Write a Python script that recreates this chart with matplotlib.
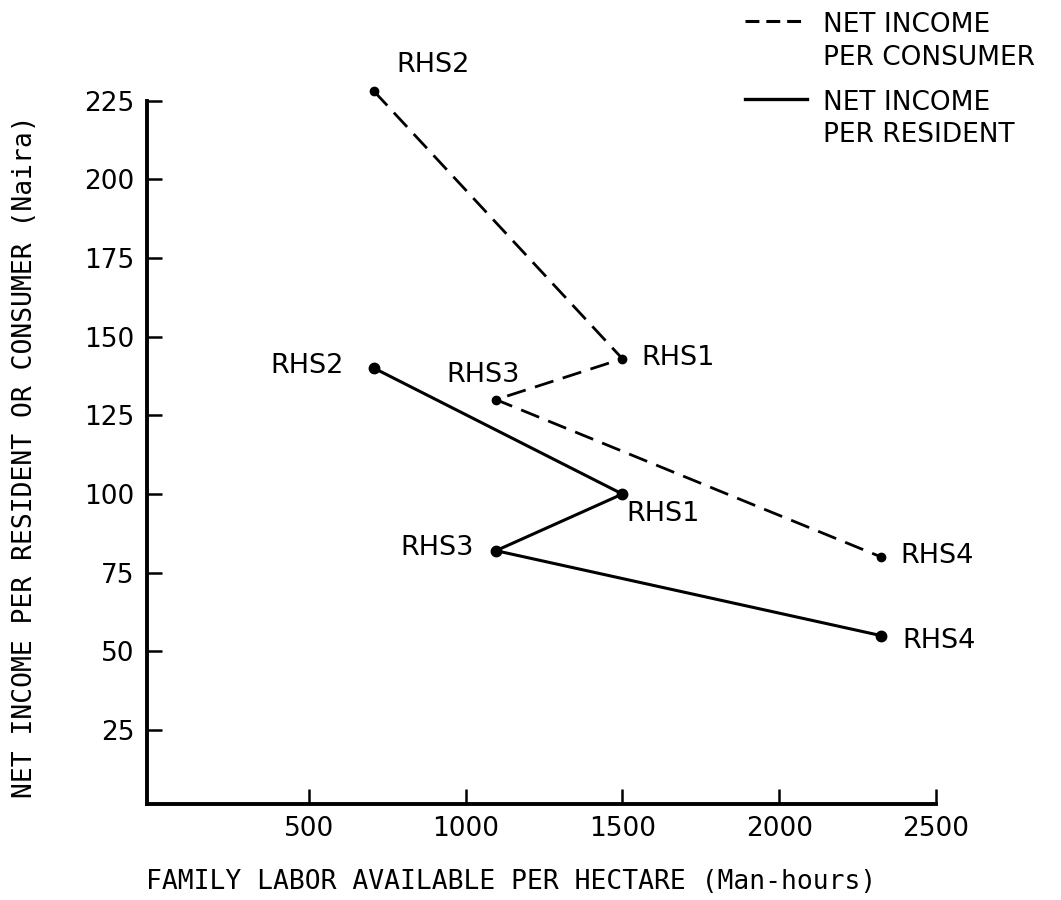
import matplotlib
matplotlib.use("Agg")
import matplotlib.pyplot as plt
from matplotlib.lines import Line2D

# ---- data ----
sites = ["RHS2", "RHS1", "RHS3", "RHS4"]
labor = [708, 1500, 1097, 2325]          # family labor per hectare (man-hours)
consumer = [228, 143, 130, 80]           # net income per consumer (Naira)
resident = [140, 100, 82, 55]            # net income per resident (Naira)
x_ticks = [500, 1000, 1500, 2000, 2500]
y_ticks = [25, 50, 75, 100, 125, 150, 175, 200, 225]

# label offsets (points) and alignment for each series
cons_offsets = [(16, 21, "left"), (14, 3, "left"), (-9, 20, "center"), (14, 3, "left")]
res_offsets = [(-22, 4, "right"), (3, -12, "left"), (-16, 4, "right"), (15, -2, "left")]

plt.rcParams['lines.scale_dashes'] = False
fig = plt.figure(figsize=(10.61, 9.0), dpi=100)
ax = fig.add_axes([0.1385, 0.1067, 0.7437, 0.7814])

ax.plot(labor, consumer, color="black", lw=2.0, dashes=(14, 7),
        marker="o", ms=6, clip_on=False, zorder=3)
ax.plot(labor, resident, color="black", lw=2.2, linestyle="-",
        marker="o", ms=7.5, clip_on=False, zorder=3)

lab_font = dict(family="DejaVu Sans", size=19.5, color="black")
for s, x, y, (dx, dy, ha) in zip(sites, labor, consumer, cons_offsets):
    ax.annotate(s, (x, y), xytext=(dx, dy), textcoords="offset points",
                ha=ha, va="center_baseline", annotation_clip=False, **lab_font)
for s, x, y, (dx, dy, ha) in zip(sites, labor, resident, res_offsets):
    ax.annotate(s, (x, y), xytext=(dx, dy), textcoords="offset points",
                ha=ha, va="center_baseline", annotation_clip=False, **lab_font)

ax.set_xlim(-16, 2500)
ax.set_ylim(1.5, 225)
ax.set_xticks(x_ticks)
ax.set_yticks(y_ticks)
ax.set_xticklabels([str(v) for v in x_ticks])
ax.set_yticklabels([str(v) for v in y_ticks])
for sp in ["top", "right"]:
    ax.spines[sp].set_visible(False)
for sp in ["left", "bottom"]:
    ax.spines[sp].set_linewidth(2.8)
ax.tick_params(axis="both", direction="in", length=11, width=1.8,
               labelsize=19, pad=9)
for t in ax.get_xticklabels() + ax.get_yticklabels():
    t.set_family("DejaVu Sans")

mono = dict(family="DejaVu Sans Mono", size=19)
fig.text(511 / 1061, 1 - 882 / 900, "FAMILY LABOR AVAILABLE PER HECTARE (Man-hours)",
         ha="center", va="center", **mono)
fig.text(25 / 1061, 1 - 457 / 900, "NET INCOME PER RESIDENT OR CONSUMER (Naira)",
         ha="center", va="center", rotation=90, **mono)

# legend (drawn manually to match the two-line layout)
W, H = 1061, 900
fig.add_artist(Line2D([745 / W, 807 / W], [1 - 21 / H, 1 - 21 / H], color="black",
                      lw=2.2, dashes=(10, 5)))
fig.add_artist(Line2D([745 / W, 807 / W], [1 - 99 / H, 1 - 99 / H], color="black",
                      lw=2.4))
leg_font = dict(family="DejaVu Sans", size=19)
fig.text(823 / W, 1 - 22 / H, "NET INCOME", ha="left", va="center_baseline", **leg_font)
fig.text(823 / W, 1 - 55 / H, "PER CONSUMER", ha="left", va="center_baseline", **leg_font)
fig.text(823 / W, 1 - 100 / H, "NET INCOME", ha="left", va="center_baseline", **leg_font)
fig.text(823 / W, 1 - 132 / H, "PER RESIDENT", ha="left", va="center_baseline", **leg_font)

fig.savefig("out.png", dpi=100)
